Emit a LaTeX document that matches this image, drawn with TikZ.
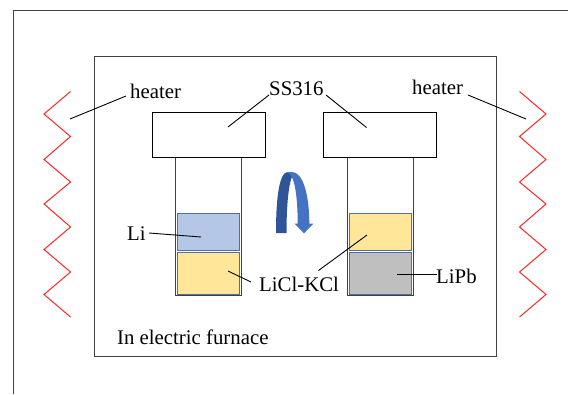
\documentclass[tikz,border=0pt]{standalone}
\usepackage{fontspec}
\setmainfont{Liberation Serif}
\definecolor{framec}{HTML}{404040}
\definecolor{liblue}{HTML}{B4C7E7}
\definecolor{liyellow}{HTML}{FFE699}
\definecolor{ligrey}{HTML}{BFBFBF}
\definecolor{liborder}{HTML}{4F6FA5}
\definecolor{arrowdark}{HTML}{2F5597}
\definecolor{arrowlight}{HTML}{4472C4}
\tikzset{
  boxshape/.style={draw=black,line width=0.9pt,fill=white,inner sep=0pt,minimum width=113pt,minimum height=45pt},
  tubeshape/.style={draw=framec,line width=0.9pt,fill=white,inner sep=0pt,minimum width=66pt,minimum height=138pt},
  liquid/.style={draw=liborder,line width=1pt,inner sep=0pt,minimum width=62pt,minimum height=#1},
  label/.style={inner sep=0pt,anchor=base west,font=\fontsize{20.8pt}{24pt}\selectfont},
  leader/.style={draw=black,line width=0.9pt},
  coil/.style={draw=red!85!white,line width=1pt},
  framing/.style={draw=framec,line width=0.8pt}
}
\begin{document}
\begin{tikzpicture}[x=1pt,y=-1pt]
\useasboundingbox (0,0) rectangle (568,394);
\draw[framing] (13,394) -- (13,10) -- (568,10);
\node[framing,inner sep=0pt,minimum width=402pt,minimum height=300pt,fill=white] (furnace) at (295,206) {};
% tubes and caps
\node[tubeshape] (tubeL) at (208.7,226) {};
\node[tubeshape] (tubeR) at (380.2,226) {};
\node[boxshape] (capL) at (208.7,135) {};
\node[boxshape] (capR) at (380.2,135) {};
% liquids
\node[liquid=37.5pt,fill=liblue] (li) at (208.7,232) {};
\node[liquid=42pt,fill=liyellow] (saltL) at (208.7,273) {};
\node[liquid=37.5pt,fill=liyellow] (saltR) at (380.2,232) {};
\node[liquid=42pt,fill=ligrey] (lipb) at (380.2,273) {};
% heaters
\draw[coil] (70.5,91.5) -- (44,114) -- (70.5,136.5) -- (44,159.5) -- (70.5,182) -- (44,204) -- (70.5,227) -- (44,249.5) -- (70.5,272) -- (44,294.5) -- (70.5,317);
\draw[coil] (519.5,91.5) -- (546,114) -- (519.5,136.5) -- (546,159.5) -- (519.5,182) -- (546,204) -- (519.5,227) -- (546,249.5) -- (519.5,272) -- (546,294.5) -- (519.5,317);
% rotation arrow
\fill[arrowdark] (276,233) .. controls (276,205) and (278,172) .. (288,172) -- (293,172) .. controls (294,174) and (293,176) .. (291.5,178) .. controls (288,188) and (286.5,210) .. (286.5,233) -- cycle;
\fill[arrowlight] (286,172) -- (292,172) .. controls (303,172) and (309.3,195) .. (309.3,223.5) -- (313.5,223.5) -- (304,233.3) -- (294.5,223.5) -- (297.7,223.5) .. controls (297.7,205) and (296,186) .. (292.5,178.5) .. controls (291,175) and (289,173) .. (286,172) -- cycle;
% labels
\node[label] (heaterL) at (130,98.7) {heater};
\node[label] (ss) at (269,95) {SS316};
\node[label] (heaterR) at (412,94) {heater};
\node[label] (liT) at (127,240.5) {Li};
\node[label] (saltT) at (259,291) {LiCl-KCl};
\node[label] (lipbT) at (436,283) {LiPb};
\node[label] (furnT) at (117,344) {In electric furnace};
% leader ends
\coordinate (a1) at (126,96); \coordinate (a2) at (70,119);
\coordinate (b1) at (269,95); \coordinate (b2) at (228,127);
\coordinate (c1) at (326,95); \coordinate (c2) at (366.5,127.5);
\coordinate (d1) at (468,95); \coordinate (d2) at (526,119);
\coordinate (e1) at (149,233); \coordinate (e2) at (201,237);
\coordinate (f1) at (251,282); \coordinate (f2) at (228,271);
\coordinate (g1) at (318.5,270.5); \coordinate (g2) at (367,235);
\coordinate (h1) at (437,274); \coordinate (h2) at (397,274);
\foreach \p/\q in {a1/a2,b1/b2,c1/c2,d1/d2,e1/e2,f1/f2,g1/g2,h1/h2} \draw[leader] (\p) -- (\q);
\end{tikzpicture}
\end{document}
